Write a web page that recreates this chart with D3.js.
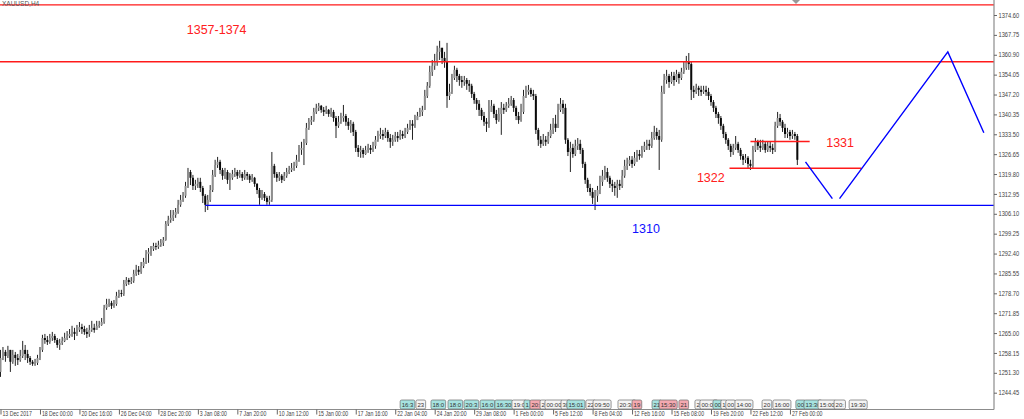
<!DOCTYPE html>
<html>
<head>
<meta charset="utf-8">
<script src="https://cdn.jsdelivr.net/npm/d3@7/dist/d3.min.js"></script>
<style>
  body { margin: 0; background: #fff; }
  svg { display: block; }
</style>
</head>
<body>
<div class="chart"></div>
<script>
// XAUUSD H4 chart, 13 Dec 2017 - 27 Feb 2018
var svgWidth = 1024;
var svgHeight = 419;

// candle data, open of each bar = previous close
var firstOpen = 1251.6;
var closes = [
  1256.4,1258.5,1257.1,1259.2,1255.1,1257.5,1256.4,1255.7,1257.1,1259.2,
  1257.8,1256.4,1255.1,1254.4,1254.7,1256.4,1259.2,1263.3,1262.6,1261.9,
  1263.3,1264.0,1262.6,1260.9,1261.6,1262.3,1263.3,1264.0,1264.7,1265.4,
  1264.7,1266.1,1267.1,1266.4,1265.4,1264.7,1266.1,1266.8,1266.1,1267.5,
  1267.8,1268.8,1273.7,1275.0,1275.4,1274.4,1275.0,1277.8,1278.8,1278.5,
  1281.9,1283.3,1282.6,1283.0,1285.4,1286.8,1286.1,1288.1,1289.5,1292.3,
  1293.0,1294.0,1295.0,1294.7,1295.4,1296.1,1297.1,1302.6,1304.0,1304.7,
  1305.7,1306.7,1309.2,1310.9,1312.3,1315.7,1320.5,1318.5,1315.7,1316.4,
  1317.1,1315.0,1312.3,1309.2,1310.9,1314.3,1319.5,1322.9,1324.0,1321.2,
  1319.2,1320.5,1317.8,1318.5,1319.8,1320.5,1319.2,1319.8,1318.5,1319.8,
  1319.2,1317.8,1318.5,1316.4,1314.3,1311.6,1312.9,1311.6,1310.2,1310.9,
  1322.6,1319.8,1318.5,1319.2,1317.8,1319.2,1320.5,1321.2,1321.9,1322.6,
  1324.7,1328.1,1328.8,1330.5,1335.7,1337.8,1338.4,1341.2,1342.6,1343.3,
  1341.9,1341.2,1341.9,1340.5,1341.2,1339.1,1336.4,1337.8,1339.1,1339.8,
  1337.8,1336.4,1337.1,1334.3,1328.8,1327.4,1328.1,1326.7,1328.1,1328.8,
  1328.1,1329.5,1331.6,1332.9,1333.6,1332.9,1334.3,1332.2,1330.9,1331.6,
  1332.9,1332.2,1333.6,1332.9,1334.3,1335.7,1337.1,1336.4,1338.4,1339.8,
  1341.2,1341.9,1346.7,1350.2,1355.0,1357.1,1358.4,1361.9,1363.3,1359.8,
  1358.4,1346.7,1348.1,1352.9,1355.7,1353.6,1352.2,1351.5,1352.2,1350.9,
  1350.2,1347.4,1345.3,1344.0,1341.9,1339.8,1337.8,1337.1,1341.2,1343.3,
  1340.5,1338.4,1340.5,1342.6,1341.9,1343.3,1344.0,1345.3,1342.6,1339.8,
  1338.4,1341.2,1346.7,1348.1,1348.8,1347.4,1346.7,1335.0,1331.6,1330.2,
  1331.6,1330.9,1332.9,1335.0,1337.1,1335.7,1341.9,1344.0,1342.6,1331.6,
  1327.4,1328.8,1326.7,1329.5,1330.2,1328.1,1323.3,1317.8,1315.0,1313.6,
  1311.6,1312.3,1314.3,1317.1,1319.2,1320.5,1318.5,1316.4,1315.7,1315.0,
  1316.4,1315.7,1319.2,1322.6,1323.3,1324.7,1323.3,1325.4,1326.7,1326.0,
  1328.1,1329.5,1330.2,1329.5,1332.2,1334.3,1332.9,1331.6,1348.1,1352.2,
  1353.6,1351.5,1353.6,1352.2,1354.3,1352.9,1355.0,1356.4,1358.4,1357.7,
  1348.8,1348.1,1349.5,1348.8,1348.1,1348.8,1348.1,1346.7,1344.6,1342.6,
  1340.5,1339.1,1336.4,1333.6,1331.6,1329.5,1327.4,1328.8,1330.2,1328.1,
  1326.0,1324.7,1325.4,1323.3,1322.6,1328.1,1330.9,1329.5,1328.8,1330.2,
  1328.1,1329.5,1328.8,1328.1,1336.4,1339.1,1337.8,1335.7,1333.6,1334.3,
  1332.9,1333.6,1332.9,1324.7
];
var highs = [
  1259.2,1260.2,1259.2,1260.6,1259.2,1259.2,1258.5,1257.8,1259.2,1262.3,
  1260.9,1259.2,1257.1,1255.7,1256.1,1257.5,1260.2,1264.4,1264.7,1264.0,
  1264.7,1265.4,1264.7,1263.3,1263.0,1263.7,1265.1,1265.7,1266.4,1267.5,
  1266.8,1267.8,1268.8,1268.2,1267.5,1266.8,1267.8,1269.2,1268.2,1269.2,
  1269.2,1270.2,1274.7,1276.8,1276.8,1276.1,1276.4,1279.2,1279.9,1279.9,
  1283.3,1284.3,1284.0,1284.3,1286.8,1288.5,1288.1,1289.5,1290.9,1293.6,
  1294.3,1295.0,1296.1,1296.1,1296.8,1297.4,1298.1,1303.6,1305.4,1307.4,
  1307.4,1308.1,1310.9,1312.6,1313.6,1317.1,1321.9,1321.2,1319.5,1317.8,
  1318.5,1318.5,1315.7,1312.9,1312.6,1316.0,1321.2,1324.7,1325.7,1324.7,
  1321.9,1321.9,1321.2,1320.2,1321.2,1321.9,1321.2,1321.2,1320.5,1321.2,
  1320.5,1319.8,1319.8,1318.8,1316.7,1315.0,1314.3,1313.6,1312.3,1312.3,
  1327.4,1323.3,1320.5,1320.5,1319.8,1320.5,1321.9,1322.6,1323.6,1324.0,
  1326.4,1329.8,1330.9,1331.9,1337.4,1339.1,1339.8,1342.6,1344.0,1344.3,
  1343.6,1342.9,1343.3,1342.2,1342.6,1341.9,1339.8,1339.8,1340.9,1343.6,
  1340.5,1339.1,1338.4,1337.8,1335.0,1329.8,1329.5,1328.8,1329.5,1330.2,
  1329.8,1330.9,1332.9,1334.7,1335.7,1335.0,1335.7,1335.0,1333.6,1333.3,
  1334.3,1334.3,1335.0,1334.7,1335.7,1337.1,1338.4,1338.4,1340.2,1341.2,
  1342.6,1343.3,1348.8,1351.5,1357.1,1359.1,1361.2,1364.0,1365.7,1362.6,
  1361.9,1365.0,1350.9,1354.3,1357.1,1356.4,1354.3,1353.6,1353.6,1352.9,
  1352.2,1350.9,1348.1,1346.0,1345.3,1342.6,1341.2,1339.1,1345.3,1345.3,
  1344.0,1341.9,1342.6,1344.6,1344.0,1344.6,1346.0,1346.7,1346.0,1343.3,
  1341.2,1344.0,1348.8,1350.2,1350.5,1349.5,1348.8,1347.4,1335.7,1332.9,
  1333.6,1332.9,1334.3,1337.1,1339.1,1340.2,1344.0,1346.0,1345.3,1344.0,
  1332.2,1330.9,1330.2,1331.6,1332.2,1331.6,1328.8,1324.0,1318.5,1316.4,
  1315.0,1314.3,1315.7,1319.2,1321.2,1322.6,1321.9,1319.2,1317.8,1317.1,
  1317.8,1317.8,1321.2,1324.7,1325.4,1326.0,1326.0,1327.4,1328.1,1328.1,
  1329.5,1330.9,1331.6,1331.6,1334.3,1336.4,1335.7,1335.0,1350.2,1354.3,
  1355.7,1354.3,1355.0,1355.0,1355.7,1355.0,1356.4,1358.4,1360.5,1361.5,
  1358.4,1350.2,1350.9,1350.2,1350.2,1350.2,1350.2,1349.5,1347.4,1345.3,
  1343.3,1341.2,1339.8,1337.1,1334.3,1332.2,1330.2,1330.2,1332.9,1330.9,
  1328.8,1326.7,1326.7,1326.0,1324.7,1329.5,1332.2,1331.6,1331.6,1331.6,
  1330.9,1330.9,1330.9,1330.2,1337.8,1341.2,1340.5,1338.4,1337.1,1335.7,
  1335.0,1335.0,1334.3,1333.6
];
var lows = [
  1249.9,1255.7,1255.1,1256.4,1251.6,1254.4,1253.7,1254.0,1255.1,1256.4,
  1255.7,1254.7,1254.0,1253.7,1253.7,1254.0,1255.7,1258.5,1261.3,1260.9,
  1261.3,1262.3,1261.6,1259.9,1259.2,1260.9,1261.9,1262.6,1263.3,1263.7,
  1262.6,1264.0,1265.4,1264.7,1264.4,1263.3,1263.7,1265.4,1265.1,1266.1,
  1266.8,1267.5,1268.2,1273.0,1274.0,1273.3,1273.7,1274.4,1277.1,1277.5,
  1277.8,1281.2,1281.6,1281.9,1282.3,1284.7,1285.0,1285.4,1287.4,1288.8,
  1289.2,1291.6,1293.3,1293.6,1294.0,1294.7,1295.0,1296.8,1301.9,1303.0,
  1303.6,1304.7,1306.1,1308.5,1310.2,1311.6,1315.0,1316.0,1314.3,1314.3,
  1315.0,1313.6,1309.8,1306.7,1307.4,1310.2,1313.6,1318.8,1321.9,1319.8,
  1317.8,1318.1,1316.4,1314.3,1317.8,1318.8,1318.1,1318.5,1317.4,1317.8,
  1317.8,1316.7,1317.1,1315.4,1312.9,1309.2,1310.9,1310.5,1309.2,1309.2,
  1310.2,1318.5,1317.1,1317.4,1316.7,1317.4,1318.5,1319.8,1320.5,1320.9,
  1321.9,1324.0,1326.4,1322.9,1329.8,1335.0,1336.7,1337.8,1340.5,1341.5,
  1340.9,1339.8,1340.5,1339.5,1339.5,1337.8,1332.2,1335.7,1337.1,1337.8,
  1336.4,1335.0,1334.0,1332.9,1327.4,1325.7,1325.4,1325.4,1326.4,1327.1,
  1326.7,1327.4,1328.5,1330.9,1331.9,1331.6,1332.2,1330.9,1328.8,1329.5,
  1330.9,1330.9,1331.6,1331.9,1332.2,1333.6,1335.0,1331.6,1335.7,1338.4,
  1339.5,1339.8,1341.9,1346.0,1349.5,1353.6,1355.7,1357.1,1359.1,1357.7,
  1356.4,1342.6,1345.3,1347.4,1352.2,1351.5,1350.2,1349.5,1350.2,1348.8,
  1348.1,1346.0,1344.0,1341.9,1339.8,1338.4,1336.4,1334.3,1335.7,1341.2,
  1339.1,1337.1,1337.8,1333.3,1340.5,1341.2,1342.6,1343.3,1341.2,1338.4,
  1337.1,1337.8,1340.5,1346.0,1347.1,1346.4,1345.3,1333.6,1329.5,1328.8,
  1329.5,1329.5,1330.2,1332.2,1333.6,1334.3,1335.7,1341.2,1340.5,1330.2,
  1326.0,1320.5,1325.4,1326.0,1328.1,1326.7,1321.9,1316.4,1313.6,1312.3,
  1309.5,1307.4,1310.2,1312.9,1315.7,1317.8,1317.1,1315.0,1313.6,1312.3,
  1311.6,1314.3,1315.0,1318.5,1321.2,1322.6,1321.9,1322.6,1324.0,1324.7,
  1325.4,1327.4,1328.1,1328.1,1328.8,1331.6,1331.6,1321.2,1330.9,1347.4,
  1350.9,1349.5,1350.9,1350.2,1351.5,1350.9,1352.2,1354.3,1355.7,1355.7,
  1345.3,1346.0,1347.4,1346.7,1346.7,1347.4,1346.7,1345.3,1343.3,1341.2,
  1339.1,1337.1,1335.0,1332.2,1330.2,1328.1,1325.7,1326.4,1328.1,1327.1,
  1324.7,1322.9,1323.6,1321.9,1321.2,1321.9,1327.4,1328.1,1327.4,1328.1,
  1327.1,1327.4,1327.4,1326.7,1327.4,1335.7,1336.4,1334.3,1332.2,1332.2,
  1331.6,1331.9,1331.6,1322.9
];

var priceTicks = [1244.45,1251.30,1258.15,1265.00,1271.85,1278.70,1285.55,1292.40,1299.25,1306.10,
  1312.95,1319.80,1326.65,1333.50,1340.35,1347.20,1354.05,1360.90,1367.75,1374.60];
var timeLabels = ["13 Dec 2017","18 Dec 00:00","20 Dec 16:00","26 Dec 04:00","28 Dec 20:00","3 Jan 08:00",
  "7 Jan 20:00","10 Jan 12:00","15 Jan 00:00","17 Jan 16:00","22 Jan 04:00","24 Jan 20:00","29 Jan 08:00",
  "1 Feb 00:00","5 Feb 12:00","8 Feb 04:00","12 Feb 16:00","15 Feb 08:00","19 Feb 20:00","22 Feb 12:00","27 Feb 00:00"];
var barsPerLabel = 16;

// drawn objects (bar index, price)
var resistanceLevels = [1378.1, 1358.5];
var supportLevel = { from: 83, price: 1309.0 };
var rangeTop = { from: 304, to: 328, price: 1331.0 };
var rangeBottom = { from: 295.5, to: 349, price: 1321.8 };
var projectionDown = [[326.3, 1324.0], [337.2, 1311.3]];
var projectionUp = [[340.1, 1311.3], [384, 1361.9], [398.6, 1334.0]];
var redNotes = [["1357-1374", 75.5, 1368.1], ["1322", 282.3, 1317.1], ["1331", 334.7, 1329.2]];
var blueNotes = [["1310", 256, 1299.5]];

// calendar markers along the bottom (bar index, text, kind)
var eventMarks = [
  [162,"16:3","c"],[168.4,"23","w"],[174.5,"18:0","c"],[181.4,"18:0","c"],[187.9,"20:3","c"],
  [194.4,"16:0","c"],[200.4,"16:30","c"],[207.3,"19:0","w"],[212.2,"1","c"],[214.6,"20:","p"],
  [218.7,"2","w"],[220.7,"00:00","w"],[227.2,"30","w"],[229.6,"15:01","c"],[237.3,"22","w"],
  [240.2,"09:50","w"],[250.3,"20:30","w"],[256,"19","p"],[264.1,"21","c"],[267,"15:30","p"],
  [275,"21","p"],[281.5,"2","w"],[283.5,"00:00","w"],[288.8,"00","c"],[292,"1","w"],
  [294,"00","w"],[297.7,"14:00","w"],[308.7,"20","w"],[313.1,"16:00","w"],[322.4,"00","c"],
  [325.7,"13:30","c"],[331.4,"15:00","w"],[337.9,"20:","w"],[344,"19:30","w"]
];

var plotRight = 994;
var plotBottom = 409.5;
var axisFont = "Liberation Sans, Arial, sans-serif";

var candles = closes.map(function(c, i) {
  var o = i === 0 ? firstOpen : closes[i - 1];
  return { i: i, o: o, c: c, h: Math.max(highs[i], o, c), l: Math.min(lows[i], o, c) };
});

var svg = d3.select(".chart").append("svg")
  .attr("width", svgWidth)
  .attr("height", svgHeight);

var x = d3.scaleLinear().domain([0, 400]).range([0.5, 0.5 + 2.467 * 400]);
var y = d3.scaleLinear().domain([1244.45, 1374.60]).range([392.7, 15]);

var chart = svg.append("g");

// wicks
chart.selectAll(".wick").data(candles).enter().append("line")
  .attr("x1", function(d) { return x(d.i); })
  .attr("x2", function(d) { return x(d.i); })
  .attr("y1", function(d) { return y(d.h); })
  .attr("y2", function(d) { return y(d.l); })
  .attr("stroke", "#222")
  .attr("stroke-width", 1);

// bodies
chart.selectAll(".body").data(candles).enter().append("rect")
  .attr("x", function(d) { return x(d.i) - 1; })
  .attr("width", 2)
  .attr("y", function(d) { return y(Math.max(d.o, d.c)); })
  .attr("height", function(d) { return Math.max(0.9, Math.abs(y(d.o) - y(d.c))); })
  .attr("fill", function(d) { return d.c >= d.o ? "#8e8e8e" : "#0a0a0a"; });

// horizontal levels
resistanceLevels.forEach(function(p) {
  svg.append("line").attr("x1", 0).attr("x2", plotRight)
    .attr("y1", y(p)).attr("y2", y(p))
    .attr("stroke", "#ff1a1a").attr("stroke-width", 1.4);
});
svg.append("line").attr("x1", x(supportLevel.from)).attr("x2", plotRight)
  .attr("y1", y(supportLevel.price)).attr("y2", y(supportLevel.price))
  .attr("stroke", "#0000ff").attr("stroke-width", 1.4);
[rangeTop, rangeBottom].forEach(function(r) {
  svg.append("line").attr("x1", x(r.from)).attr("x2", x(r.to))
    .attr("y1", y(r.price)).attr("y2", y(r.price))
    .attr("stroke", "#ff1a1a").attr("stroke-width", 1.4);
});

var path = d3.line().x(function(d) { return x(d[0]); }).y(function(d) { return y(d[1]); });
[projectionDown, projectionUp].forEach(function(pts) {
  svg.append("path").attr("d", path(pts)).attr("fill", "none")
    .attr("stroke", "#0000ff").attr("stroke-width", 1.4);
});

redNotes.forEach(function(n) {
  svg.append("text").attr("x", x(n[1])).attr("y", y(n[2])).text(n[0])
    .attr("fill", "#ff2020").attr("font-family", axisFont).attr("font-size", 12.5);
});
blueNotes.forEach(function(n) {
  svg.append("text").attr("x", x(n[1])).attr("y", y(n[2])).text(n[0])
    .attr("fill", "#1010ff").attr("font-family", axisFont).attr("font-size", 12.5);
});

// frame lines
svg.append("line").attr("x1", plotRight).attr("x2", plotRight).attr("y1", 0).attr("y2", plotBottom)
  .attr("stroke", "#8c8c8c").attr("stroke-width", 1.2);
svg.append("line").attr("x1", 0).attr("x2", plotRight).attr("y1", plotBottom).attr("y2", plotBottom)
  .attr("stroke", "#8c8c8c").attr("stroke-width", 1.2);

// price axis
var rightAxis = d3.axisRight(y).tickValues(priceTicks).tickFormat(d3.format(".2f")).tickSize(3).tickPadding(1.5);
var gy = svg.append("g").attr("transform", "translate(" + plotRight + ",0)").call(rightAxis);
gy.select(".domain").remove();
gy.selectAll("line").attr("stroke", "#666");
gy.selectAll("text").attr("fill", "#444").attr("font-size", 6.5)
  .attr("font-family", axisFont)
  .attr("transform", "translate(4.5,0) scale(0.88,1) translate(-4.5,0)");

// time axis
var labelBars = timeLabels.map(function(t, k) { return k * barsPerLabel; });
var bottomAxis = d3.axisBottom(x).tickValues(labelBars)
  .tickFormat(function(d, k) { return timeLabels[k]; }).tickSize(5).tickPadding(-4);
var gx = svg.append("g").attr("transform", "translate(0," + plotBottom + ")").call(bottomAxis);
gx.select(".domain").remove();
gx.selectAll("line").attr("stroke", "#666");
gx.selectAll("text").attr("fill", "#444").attr("font-size", 6.5)
  .attr("font-family", axisFont)
  .attr("text-anchor", "start").attr("x", 1.8).attr("dy", "0.9em")
  .attr("transform", "scale(0.8,1)");

// calendar markers
var marks = svg.append("g");
eventMarks.forEach(function(m) {
  var g = marks.append("g");
  var t = g.append("text").attr("x", x(m[0]) + 1.5).attr("y", 406.5).text(m[1])
    .attr("font-size", 6).attr("font-family", axisFont).attr("fill", "#333");
  var w = t.node().getComputedTextLength();
  g.insert("rect", "text").attr("x", x(m[0])).attr("y", 400).attr("width", w + 3).attr("height", 9)
    .attr("rx", 1.5)
    .attr("fill", m[2] === "c" ? "#a6e3e0" : m[2] === "p" ? "#f4a9b0" : "#f4f4f4")
    .attr("stroke", "#6a6a6a").attr("stroke-width", 0.7);
});

// symbol caption and shift marker
svg.append("text").attr("x", 2).attr("y", 6).text("XAUUSD,H4")
  .attr("font-size", 6.5).attr("fill", "#555").attr("font-family", axisFont);
svg.append("path").attr("d", "M792,0L800,0L796,4Z").attr("fill", "#999");
</script>
</body>
</html>
